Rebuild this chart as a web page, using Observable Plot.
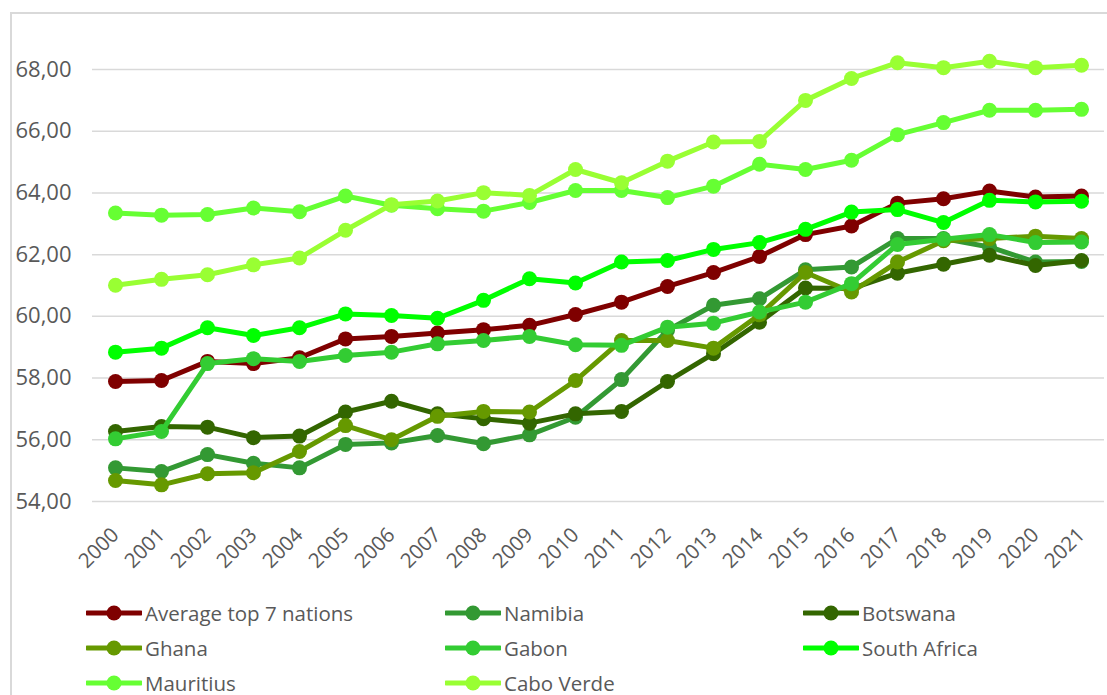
<!DOCTYPE html>
<html>
<head>
<meta charset="utf-8">
<script src="https://cdn.jsdelivr.net/npm/d3@7"></script>
<script src="https://cdn.jsdelivr.net/npm/@observablehq/plot@0.6"></script>
<style>
  body { margin: 0; background: #fff; font-family: "Open Sans", sans-serif; }
  #frame { position: absolute; left: 10px; top: 12px; width: 1300px; height: 900px;
           border-left: 2px solid #d9d9d9; border-top: 2px solid #d9d9d9; }
  #chart { position: absolute; left: 0; top: 0; }
  #legend { position: absolute; left: 86px; top: 595px; display: grid;
            grid-template-columns: 359px 358px 300px; grid-auto-rows: 35px; }
  .item { display: flex; align-items: center; font-size: 20.5px; color: #595959; }
  .item svg { margin-right: 3px; }
</style>
</head>
<body>
<div id="frame"></div>
<div id="chart"></div>
<div id="legend"></div>
<script>
const years = ["2000","2001","2002","2003","2004","2005","2006","2007","2008","2009","2010",
               "2011","2012","2013","2014","2015","2016","2017","2018","2019","2020","2021"];
const seriesNames = ["Average top 7 nations","Namibia","Botswana","Ghana","Gabon","South Africa","Mauritius","Cabo Verde"];
const seriesColors = ["#7f0000","#339933","#336600","#669900","#33cc33","#00ff00","#66ff33","#99ff33"];
const yTicks = [54, 56, 58, 60, 62, 64, 66, 68];

const average     = [57.89,57.92,58.54,58.47,58.66,59.27,59.35,59.46,59.57,59.71,60.06,60.46,60.97,61.42,61.94,62.65,62.93,63.67,63.81,64.06,63.87,63.90];
const namibia     = [55.09,54.97,55.52,55.24,55.09,55.85,55.90,56.14,55.87,56.16,56.73,57.95,59.55,60.36,60.57,61.51,61.60,62.52,62.52,62.25,61.76,61.78];
const botswana    = [56.27,56.43,56.41,56.07,56.12,56.90,57.25,56.84,56.68,56.54,56.84,56.92,57.89,58.79,59.81,60.92,60.90,61.40,61.69,61.98,61.65,61.81];
const ghana       = [54.68,54.54,54.90,54.93,55.62,56.46,56.00,56.76,56.92,56.90,57.92,59.22,59.22,58.97,60.05,61.42,60.79,61.76,62.45,62.52,62.60,62.52];
const gabon       = [56.03,56.27,58.47,58.63,58.54,58.73,58.84,59.11,59.22,59.35,59.08,59.06,59.65,59.78,60.14,60.46,61.06,62.33,62.50,62.65,62.39,62.41];
const southAfrica = [58.84,58.97,59.63,59.38,59.63,60.08,60.03,59.94,60.52,61.22,61.08,61.76,61.81,62.17,62.39,62.82,63.38,63.46,63.04,63.76,63.71,63.73];
const mauritius   = [63.35,63.28,63.30,63.51,63.39,63.90,63.60,63.49,63.41,63.69,64.08,64.08,63.85,64.22,64.93,64.76,65.06,65.89,66.28,66.68,66.68,66.71];
const caboVerde   = [61.01,61.20,61.35,61.67,61.89,62.79,63.62,63.74,64.01,63.92,64.76,64.33,65.03,65.65,65.67,67.00,67.71,68.22,68.06,68.27,68.06,68.14];

const seriesValues = [average, namibia, botswana, ghana, gabon, southAfrica, mauritius, caboVerde];

const data = seriesNames.flatMap((name, i) =>
  years.map((year, j) => ({series: name, year, value: seriesValues[i][j]})));

const color = {domain: seriesNames, range: seriesColors};
const fmt = d => d.toFixed(2).replace(".", ",");

const marks = [
  Plot.gridY(yTicks, {stroke: "#d9d9d9", strokeOpacity: 1, strokeWidth: 1.5})
];
seriesNames.forEach(name => {
  const d = data.filter(r => r.series === name);
  marks.push(Plot.line(d, {x: "year", y: "value", stroke: "series", strokeWidth: 5, strokeLinejoin: "round"}));
  marks.push(Plot.dot(d, {x: "year", y: "value", fill: "series", r: 7.5}));
});

const chart = Plot.plot({
  width: 1107,
  height: 580,
  marginLeft: 92,
  marginRight: 3,
  marginTop: 32,
  marginBottom: 79,
  style: {fontFamily: "Open Sans, sans-serif", fontSize: "20px", color: "#595959", background: "transparent"},
  x: {type: "band", domain: years, padding: 0, align: 0.5, label: null},
  y: {domain: [54, 69.2], label: null},
  color,
  marks: [
    ...marks,
    Plot.axisX({tickSize: 0, tickPadding: 30, tickRotate: -45, fontSize: 20.5, label: null}),
    Plot.axisY(yTicks, {tickSize: 0, tickPadding: 21, fontSize: 22, tickFormat: fmt, label: null})
  ]
});
document.getElementById("chart").appendChild(chart);

const legend = document.getElementById("legend");
seriesNames.forEach((name, i) => {
  const item = document.createElement("div");
  item.className = "item";
  item.innerHTML = `<svg width="56" height="18"><line x1="1" y1="9" x2="55" y2="9" stroke="${seriesColors[i]}" stroke-width="5" stroke-linecap="round"/><circle cx="28" cy="9" r="7.5" fill="${seriesColors[i]}"/></svg><span>${name}</span>`;
  legend.appendChild(item);
});
</script>
</body>
</html>
